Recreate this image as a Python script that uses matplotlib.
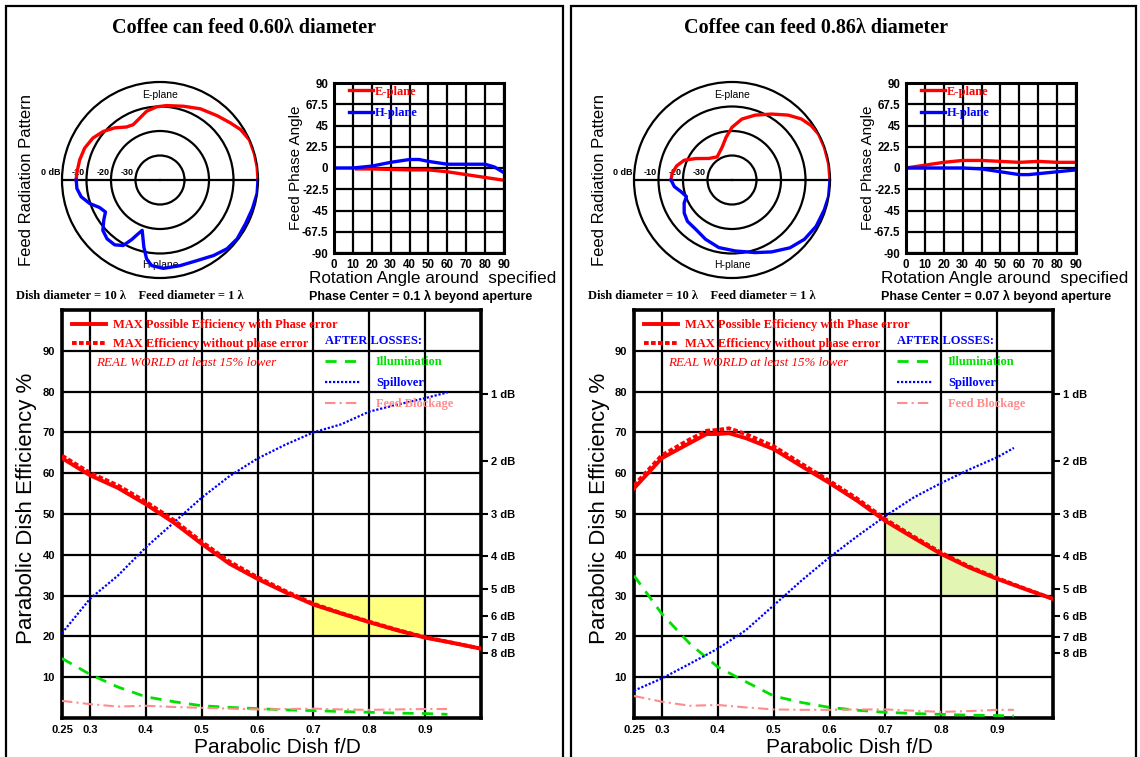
import matplotlib.pyplot as plt
import numpy as np

W, H = 1140, 757
SANS = 'Liberation Sans'
SERIF = 'Liberation Serif'

# ---------------- left panel (0.60 lambda) ----------------
a_title = 'Coffee can feed 0.60\u03bb diameter'
a_phase_center = 'Phase Center = 0.1 \u03bb beyond aperture'

# feed radiation pattern: angle (deg), level (dB)
a_e_ang = [0, 7.8, 15.7, 24.1, 32, 39, 48.5, 60.5, 72.3, 84.9, 92.6, 101, 108, 115.9, 122.3,
           131, 139.5, 148, 157.1, 166, 175.4, 180]
a_e_db = [0, 0, 0, 0, -1.2, -3.0, -4.9, -6.6, -8.4, -9.5, -10.1, -11.4, -13.4, -14.9, -14.4,
          -11.8, -9.5, -7.7, -6.6, -6.2, -5.9, -5.8]
a_h_ang = [0, -7.9, -17.2, -27, -37.3, -45.7, -54.6, -65.4, -76.8, -87.8, -95.6, -99.7, -103.5,
           -109.5, -112.1, -115.5, -119.4, -125, -132, -138.6, -144.5, -149.6, -155.5, -161.6,
           -168, -174.2, -180]
a_h_db = [0, 0, -0.5, -0.8, -0.4, -0.8, -2.2, -3.8, -4.1, -3.9, -4.9, -7.4, -11.8,
          -18.2, -16.3, -13.0, -9.3, -7.7, -7.7, -8.9, -11.8, -14.2, -12.9, -9.7,
          -7.1, -5.9, -5.8]

# feed phase (deg) vs rotation angle
a_ph_e_x = [12, 20, 30, 40, 50, 60, 70, 80, 90]
a_ph_e_y = [-1, -1, -1.5, -2, -2, -4, -7, -10, -13]
a_ph_h_x = [0, 10, 20, 30, 40, 45, 50, 60, 70, 80, 85, 90]
a_ph_h_y = [0, 0, 2, 6, 9, 9, 7, 4, 4, 4, 1, -5]

# efficiency vs f/D
a_fd = [0.25, 0.3, 0.35, 0.4, 0.45, 0.5, 0.55, 0.6, 0.65, 0.7, 0.75, 0.8, 0.85, 0.9, 0.95, 1.0]
a_eff = [63.7, 59.5, 56.4, 52.4, 47.9, 42.7, 37.8, 34.1, 30.8, 27.8, 25.6, 23.5, 21.5, 19.7, 18.4, 17.0]
a_eff_np = [64.3, 60.1, 57.0, 53.0, 48.5, 43.2, 38.3, 34.5, 31.1, 28.0, 25.7, 23.6, 21.6, 19.8, 18.4, 17.0]
a_loss_fd = [0.25, 0.3, 0.35, 0.4, 0.45, 0.5, 0.55, 0.6, 0.65, 0.7, 0.75, 0.8, 0.85, 0.9, 0.94]
a_spill = [20.8, 29.2, 34.9, 41.8, 47.9, 54.0, 59.3, 63.6, 67.0, 70.0, 72.0, 75.1, 76.8, 78.4, 79.8]
a_illum = [14.6, 10.7, 7.6, 5.2, 4.0, 3.0, 2.6, 2.3, 2.0, 1.8, 1.6, 1.4, 1.2, 1.1, 0.9]
a_block = [4.2, 3.4, 2.8, 3.0, 2.7, 2.5, 2.3, 2.1, 2.2, 2.3, 2.1, 2.0, 2.1, 2.2, 2.2]
a_zones = [(0.7, 0.9, 20, 30)]
a_zone_color = '#ffff80'

# ---------------- right panel (0.86 lambda) ----------------
b_title = 'Coffee can feed 0.86\u03bb diameter'
b_phase_center = 'Phase Center = 0.07 \u03bb beyond aperture'

b_e_ang = [0, 9.7, 19.3, 27.8, 34.5, 41.4, 49.2, 59, 70.4, 80.8, 90, 97.9, 106.7, 122.7,
           137, 149.4, 157.5, 165.6, 173.7, 180]
b_e_db = [0, 0, 0, 0, -0.8, -2.3, -5.0, -8.6, -11.9, -14.8, -18.5, -22.4, -26.0, -28.8,
          -27.1, -22.8, -18.9, -16.7, -15.4, -15.1]
b_h_ang = [0, -9.7, -17.8, -28.8, -39.3, -49.5, -61.2, -72.3, -87.3, -101, -114, -126,
           -137.2, -145.4, -154.2, -160, -167.3, -173.5, -180]
b_h_db = [0, 0, -0.4, -0.8, -1.8, -3.6, -6.5, -8.9, -11.0, -11.9, -13.5, -15.0,
          -15.2, -16.3, -18.3, -20.2, -18.6, -16.3, -15.1]

b_ph_e_x = [0, 10, 20, 30, 40, 50, 60, 70, 80, 90]
b_ph_e_y = [0, 3, 6, 8, 8, 7, 6, 7, 6, 6]
b_ph_h_x = [0, 10, 20, 30, 40, 50, 60, 65, 70, 80, 90]
b_ph_h_y = [0, 0, 0, 0, -1, -4, -7, -7, -6, -4, -2]

b_fd = [0.25, 0.3, 0.35, 0.38, 0.4, 0.42, 0.45, 0.5, 0.55, 0.6, 0.65, 0.7, 0.75, 0.8, 0.85, 0.9, 0.95, 1.0]
b_eff = [56.3, 63.7, 67.4, 69.6, 69.6, 69.8, 68.6, 65.9, 61.7, 57.6, 53.2, 48.3, 44.2, 40.2, 36.9, 34.1, 31.6, 29.2]
b_eff_np = [57.0, 64.4, 68.3, 70.4, 70.6, 71.0, 69.6, 66.6, 62.3, 58.1, 53.7, 48.7, 44.5, 40.5, 37.1, 34.3, 31.7, 29.2]
b_loss_fd = [0.25, 0.3, 0.35, 0.4, 0.45, 0.5, 0.55, 0.6, 0.65, 0.7, 0.75, 0.8, 0.85, 0.9, 0.93]
b_spill = [6.7, 9.7, 13.3, 17.0, 21.5, 27.6, 33.7, 39.4, 44.6, 49.5, 54.0, 57.6, 60.9, 63.9, 66.2]
b_illum = [34.9, 25.5, 18.2, 12.5, 8.9, 5.4, 3.8, 2.6, 1.9, 1.4, 1.1, 0.9, 0.7, 0.6, 0.5]
b_block = [5.4, 4.0, 3.0, 3.2, 2.6, 2.1, 2.0, 2.0, 2.1, 2.1, 1.8, 1.5, 1.7, 2.0, 2.0]
b_zones = [(0.7, 0.8, 40, 50), (0.8, 0.9, 30, 40)]
b_zone_color = '#e2f5b2'

# shared axis labels
fd_ticks = [0.25, 0.3, 0.4, 0.5, 0.6, 0.7, 0.8, 0.9]
fd_labels = ['0.25', '0.3', '0.4', '0.5', '0.6', '0.7', '0.8', '0.9']
eff_ticks = [10, 20, 30, 40, 50, 60, 70, 80, 90]
db_loss = [1, 2, 3, 4, 5, 6, 7, 8]
phase_ticks = [-90, -67.5, -45, -22.5, 0, 22.5, 45, 67.5, 90]
phase_labels = ['-90', '-67.5', '-45', '-22.5', '0', '22.5', '45', '67.5', '90']
ring_db = [0, -10, -20, -30]
ring_labels = ['0 dB', '-10', '-20', '-30']

RED = '#ff0000'
BLUE = '#0000ff'
GREEN = '#00e000'
PINK = '#ff8c8c'


def rect(x, y, w, h):
    return [x / W, 1 - (y + h) / H, w / W, h / H]


def ftext(fig, x, y, s, **kw):
    fig.text(x / W, 1 - y / H, s, **kw)


def draw_pattern(fig, dx, cx, r, e_ang, e_db, h_ang, h_db):
    ax = fig.add_axes(rect(cx - r, 180 - r, 2 * r, 2 * r), projection='polar')
    ax.set_ylim(-40, 0)
    ax.set_xticks([])
    ax.set_yticks([-30, -20, -10])
    ax.set_yticklabels([])
    ax.yaxis.grid(True, color='k', lw=1.6)
    ax.spines['polar'].set_linewidth(1.6)
    ax.plot([np.pi, np.pi], [-40, 0], color='k', lw=1.6)
    ax.plot([0, 0], [-40, 0], color='k', lw=1.6)
    ax.plot(np.deg2rad(e_ang), e_db, color=RED, lw=2.4, zorder=5)
    ax.plot(np.deg2rad(h_ang), h_db, color=BLUE, lw=2.4, zorder=5)
    for v, lab in zip(ring_db, ring_labels):
        ax.annotate(lab, (np.pi, v), xytext=(-1, 2), textcoords='offset points',
                    ha='right', va='bottom', fontsize=6.5, fontweight='bold', family=SANS)
    ax.text(np.pi / 2, -5.2, 'E-plane', ha='center', va='center', fontsize=7.5, family=SANS)
    ax.text(-np.pi / 2, -5.2, 'H-plane', ha='center', va='center', fontsize=7.5, family=SANS)
    ftext(fig, dx + 27, 180, 'Feed Radiation Pattern', rotation=90, ha='center', va='center',
          fontsize=12, family=SANS)


def draw_phase(fig, dx, e_x, e_y, h_x, h_y, label):
    ax = fig.add_axes(rect(dx + 334, 83, 170, 170))
    ax.set_xlim(0, 90)
    ax.set_ylim(-90, 90)
    ax.set_xticks(range(0, 91, 10))
    ax.set_xticklabels([str(v) for v in range(0, 91, 10)], fontsize=8.3, fontweight='bold', family=SANS)
    ax.set_yticks(phase_ticks)
    ax.set_yticklabels(phase_labels, fontsize=8.3, fontweight='bold', family=SANS)
    ax.tick_params(length=0, pad=4)
    ax.grid(color='k', lw=1.6)
    for sp in ax.spines.values():
        sp.set_linewidth(2.2)
    he, = ax.plot(e_x, e_y, color=RED, lw=2.4, label='E-plane')
    hh, = ax.plot(h_x, h_y, color=BLUE, lw=2.4, label='H-plane')
    ax.legend(handles=[he, hh], loc='upper left', bbox_to_anchor=(0.09, 0.985), frameon=False,
              prop=dict(family=SERIF, weight='bold', size=9), labelcolor='linecolor',
              handlelength=1.9, handletextpad=0.1, labelspacing=0.75, borderpad=0, borderaxespad=0)
    ftext(fig, dx + 296, 168, 'Feed Phase Angle', rotation=90, ha='center', va='center',
          fontsize=11, family=SANS)
    ftext(fig, dx + 309, 279, 'Rotation Angle around  specified', ha='left', va='center',
          fontsize=12.3, family=SANS)
    ftext(fig, dx + 309, 296, label, ha='left', va='center', fontsize=9, fontweight='bold', family=SANS)


def draw_efficiency(fig, dx, fd, eff, eff_np, loss_fd, spill, illum, block, zones, zone_color):
    ax = fig.add_axes(rect(dx + 62, 310, 419, 408))
    ax.set_xlim(0.25, 1.0)
    ax.set_ylim(0, 100)
    ax.set_axisbelow(True)
    for x0, x1, y0, y1 in zones:
        ax.fill_between([x0, x1], y0, y1, color=zone_color, lw=0, zorder=0.2)
    ax.set_xticks(fd_ticks)
    ax.set_xticklabels(fd_labels, fontsize=8, fontweight='bold', family=SANS)
    ax.set_yticks(eff_ticks)
    ax.set_yticklabels([str(v) for v in eff_ticks], fontsize=8, fontweight='bold', family=SANS)
    ax.tick_params(length=0, pad=5)
    ax.grid(color='k', lw=1.6)
    for sp in ax.spines.values():
        sp.set_linewidth(2.6)

    h1, = ax.plot(fd, eff, color=RED, lw=2.8, zorder=4,
                  label='MAX Possible Efficiency with Phase error')
    h2, = ax.plot(fd, eff_np, color=RED, lw=2.8, ls=(0, (1.2, 0.6)), zorder=4,
                  label='MAX Efficiency without phase error')
    h3, = ax.plot(loss_fd, illum, color=GREEN, lw=2.0, ls=(0, (4, 3)), zorder=3, label='Illumination')
    h4, = ax.plot(loss_fd, spill, color=BLUE, lw=1.6, ls=(0, (1, 0.8)), zorder=3, label='Spillover')
    h5, = ax.plot(loss_fd, block, color=PINK, lw=1.5, ls=(0, (5, 2, 1, 2)), zorder=3, label='Feed Blockage')

    leg1 = ax.legend(handles=[h1, h2], loc='upper left', bbox_to_anchor=(0.024, 0.978), frameon=False,
                     prop=dict(family=SERIF, weight='bold', size=9), labelcolor=RED,
                     handlelength=2.7, handletextpad=0.55, labelspacing=0.6, borderpad=0, borderaxespad=0)
    ax.add_artist(leg1)
    leg2 = ax.legend(handles=[h3, h4, h5], loc='upper left', bbox_to_anchor=(0.627, 0.938), frameon=False,
                     prop=dict(family=SERIF, weight='bold', size=9), labelcolor=[GREEN, BLUE, PINK],
                     handlelength=2.8, handletextpad=1.3, labelspacing=0.72, borderpad=0, borderaxespad=0,
                     title='AFTER LOSSES:', alignment='left',
                     title_fontproperties=dict(family=SERIF, weight='bold', size=9))
    leg2.get_title().set_color(BLUE)
    ax.text(0.081, 0.870, 'REAL WORLD at least 15% lower', transform=ax.transAxes, color=RED,
            fontsize=9.4, style='italic', family=SERIF, va='center')

    ax2 = ax.twinx()
    ax2.set_ylim(0, 100)
    ax2.set_yticks(100 * 10 ** (-np.array(db_loss) / 10))
    ax2.set_yticklabels([f'{v} dB' for v in db_loss], fontsize=8, fontweight='bold', family=SANS)
    ax2.tick_params(direction='out', length=5, width=1.5, pad=2)
    for sp in ax2.spines.values():
        sp.set_visible(False)

    ftext(fig, dx + 27, 508, 'Parabolic Dish Efficiency %', rotation=90, ha='center', va='center',
          fontsize=16, family=SANS)
    ftext(fig, dx + 277, 757, 'Parabolic Dish f/D', ha='center', va='bottom', fontsize=15, family=SANS)


def draw_panel(fig, dx, frame_x, frame_w, title, phase_label, pattern, phase, eff, zones, zone_color):
    fig.add_artist(plt.Rectangle((frame_x / W, -0.05), frame_w / W, 1.05 - 6 / H, fill=False,
                                 lw=1.6, ec='k', transform=fig.transFigure))
    ftext(fig, dx + 244, 28, title, ha='center', va='center', fontsize=14.5, fontweight='bold', family=SERIF)
    ftext(fig, dx + 16, 296, 'Dish diameter = 10 \u03bb    Feed diameter = 1 \u03bb', ha='left', va='center',
          fontsize=9, fontweight='bold', family=SERIF)
    draw_pattern(fig, dx, dx + 160, 98, *pattern)
    draw_phase(fig, dx, *phase, phase_label)
    draw_efficiency(fig, dx, *eff, zones, zone_color)


fig = plt.figure(figsize=(W / 100, H / 100), dpi=100)
fig.patch.set_facecolor('white')

draw_panel(fig, 0, 6, 557, a_title, a_phase_center,
           (a_e_ang, a_e_db, a_h_ang, a_h_db),
           (a_ph_e_x, a_ph_e_y, a_ph_h_x, a_ph_h_y),
           (a_fd, a_eff, a_eff_np, a_loss_fd, a_spill, a_illum, a_block),
           a_zones, a_zone_color)
draw_panel(fig, 572, 571, 565, b_title, b_phase_center,
           (b_e_ang, b_e_db, b_h_ang, b_h_db),
           (b_ph_e_x, b_ph_e_y, b_ph_h_x, b_ph_h_y),
           (b_fd, b_eff, b_eff_np, b_loss_fd, b_spill, b_illum, b_block),
           b_zones, b_zone_color)

fig.savefig('out.png', dpi=100)
